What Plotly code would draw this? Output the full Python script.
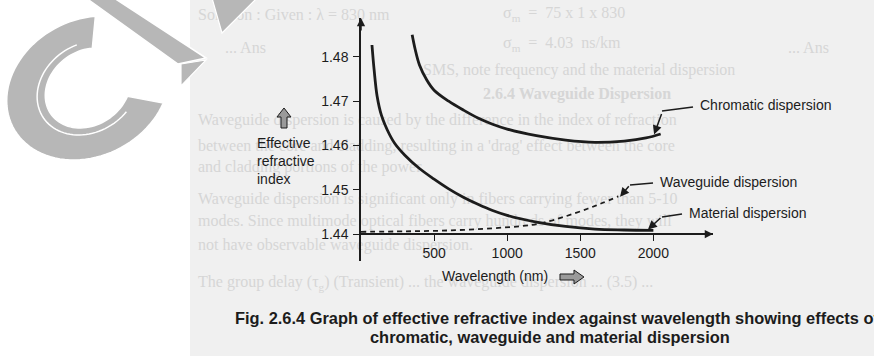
import numpy as np
import plotly.graph_objects as go

# ---- data (wavelength in nm, effective refractive index) ----
material_wl = [75, 90, 110, 140, 180, 230, 300, 400, 500, 600, 700, 800, 900, 1000, 1200, 1400, 1600, 1800, 2000]
material_n = [1.4827, 1.4770, 1.4712, 1.4668, 1.4635, 1.4605, 1.4578, 1.4548, 1.4524, 1.4502,
              1.4483, 1.4467, 1.4453, 1.4442, 1.4427, 1.4417, 1.4411, 1.4409, 1.4408]

chromatic_wl = [350, 370, 400, 450, 500, 600, 700, 800, 900, 1000, 1200, 1400, 1600, 1800, 1950, 2050]
chromatic_n = [1.4850, 1.4818, 1.4782, 1.4748, 1.4725, 1.4700, 1.4680, 1.4662, 1.4648, 1.4637,
               1.4622, 1.4612, 1.4607, 1.4610, 1.4617, 1.4626]

waveguide_wl = [0, 300, 600, 900, 1100, 1240, 1400, 1550, 1650, 1760]
waveguide_n = [1.4405, 1.4406, 1.4408, 1.4413, 1.4418, 1.4425, 1.4440, 1.4457, 1.4470, 1.4485]

x_ticks = [500, 1000, 1500, 2000]
y_ticks = [1.44, 1.45, 1.46, 1.47, 1.48]
y_tick_text = ["1.44", "1.45", "1.46", "1.47", "1.48"]

W, H = 874, 356
X_RANGE = [0, 2408]
Y_RANGE = [1.4339, 1.4888]
INK = "#1c1c1c"
SANS = "Liberation Sans, Arial, sans-serif"


def px(x):
    return x / W


def py(y):
    return 1 - y / H


fig = go.Figure()

fig.add_trace(go.Scatter(x=waveguide_wl, y=waveguide_n, mode="lines",
                         line=dict(color=INK, width=1.8, dash="5px,4px", shape="spline"),
                         hoverinfo="skip"))
fig.add_trace(go.Scatter(x=material_wl, y=material_n, mode="lines",
                         line=dict(color=INK, width=2.8, shape="spline"), hoverinfo="skip"))
fig.add_trace(go.Scatter(x=chromatic_wl, y=chromatic_n, mode="lines",
                         line=dict(color=INK, width=2.8, shape="spline"), hoverinfo="skip"))

x_domain = [px(361), px(713)]
y_domain = [py(261), py(18)]
x_axis_pos = py(234)

common_x = dict(domain=x_domain, range=X_RANGE, anchor="free", position=x_axis_pos,
                tickvals=x_ticks, showgrid=False, zeroline=False, tickcolor=INK, tickwidth=1.3)
common_y = dict(domain=y_domain, range=Y_RANGE, tickvals=y_ticks, ticktext=y_tick_text,
                showgrid=False, zeroline=False, tickcolor=INK, tickwidth=1.3)

fig.update_layout(
    width=W, height=H,
    margin=dict(l=0, r=0, t=0, b=0),
    paper_bgcolor="white",
    plot_bgcolor="rgba(0,0,0,0)",
    showlegend=False,
    xaxis=dict(**common_x, showline=True, linecolor=INK, linewidth=1.5,
               ticks="outside", ticklen=6, ticklabelstandoff=0,
               tickfont=dict(family=SANS, size=14, color=INK)),
    yaxis=dict(**common_y, anchor="x", showline=True, linecolor=INK, linewidth=1.5,
               ticks="outside", ticklen=6, ticklabelstandoff=2,
               tickfont=dict(family=SANS, size=14, color=INK)),
    # companion axes carry the inner half of the crossing tick marks
    xaxis2=dict(**common_x, overlaying="x", ticks="inside", ticklen=6,
                showticklabels=False, showline=False),
    yaxis2=dict(**common_y, overlaying="y", anchor="x", ticks="inside", ticklen=6,
                showticklabels=False, showline=False),
)

annotations = []

# axis arrow heads
annotations.append(dict(x=X_RANGE[1], y=1.44, xref="x", yref="y", ax=-14, ay=0, text="",
                        showarrow=True, arrowhead=2, arrowsize=1.1, arrowwidth=1.5, arrowcolor=INK))
annotations.append(dict(x=0, y=Y_RANGE[1], xref="x", yref="y", ax=0, ay=14, text="",
                        showarrow=True, arrowhead=2, arrowsize=1.1, arrowwidth=1.5, arrowcolor=INK))

# curve labels: text position (px), arrow tip (data), tail offset (px), leader end (px)
labels = [
    ("Chromatic dispersion", (698, 105), (2005, 1.4625), (8, -22), ((662, 111), (693, 107))),
    ("Waveguide dispersion", (658, 182), (1772, 1.4484), (10, -12), ((630, 185), (653, 183))),
    ("Material dispersion", (687, 213), (1963, 1.4410), (14, -13), ((662, 217), (682, 214))),
]
for text, (tx, ty), (ax_d, ay_d), (dx, dy), _ in labels:
    annotations.append(dict(x=px(tx), y=py(ty), xref="paper", yref="paper", text=text,
                            showarrow=False, xanchor="left", yanchor="middle",
                            font=dict(family=SANS, size=14, color=INK)))
    annotations.append(dict(x=ax_d, y=ay_d, xref="x", yref="y", ax=dx, ay=dy, text="",
                            showarrow=True, arrowhead=2, arrowsize=1.2, arrowwidth=1.5,
                            arrowcolor=INK, standoff=0))

# axis titles
annotations.append(dict(x=px(495), y=py(276), xref="paper", yref="paper", text="Wavelength (nm)",
                        xanchor="center", yanchor="middle",
                        showarrow=False, font=dict(family=SANS, size=14, color=INK)))
annotations.append(dict(x=px(255), y=py(161), xref="paper", yref="paper",
                        text="Effective<br>refractive<br>index", align="left", xanchor="left",
                        yanchor="middle",
                        showarrow=False, font=dict(family=SANS, size=14, color=INK)))

# caption
CAP = "Liberation Sans Narrow, Arial Narrow, Liberation Sans, sans-serif"
annotations.append(dict(x=px(233), y=py(318), xref="paper", yref="paper", xanchor="left",
                        yanchor="middle",
                        text="<b>Fig. 2.6.4 Graph of effective refractive index against wavelength showing effects of</b>",
                        showarrow=False, font=dict(family=CAP, size=16.4, color=INK)))
annotations.append(dict(x=px(550), y=py(337), xref="paper", yref="paper",
                        xanchor="center", yanchor="middle",
                        text="<b>chromatic, waveguide and material dispersion</b>",
                        showarrow=False, font=dict(family=CAP, size=16.4, color=INK)))

fig.update_layout(annotations=annotations)

shapes = []
# page area
shapes.append(dict(type="rect", xref="paper", yref="paper", x0=px(190), x1=1, y0=0, y1=1,
                   fillcolor="#f0f0f0", line=dict(width=0), layer="below"))

# horizontal parts of the leader lines
for *_, ((x0, y0), (x1, y1)) in labels:
    shapes.append(dict(type="line", xref="paper", yref="paper", x0=px(x0), y0=py(y0),
                       x1=px(x1), y1=py(y1), line=dict(color=INK, width=1.6)))


def path(points, close=True):
    body = "M " + " L ".join(f"{px(x):.5f},{py(y):.5f}" for x, y in points)
    return body + (" Z" if close else "")


# hatched direction arrows next to the axis titles
right_arrow = [(560, 274), (574, 274), (574, 270), (584, 277), (574, 284), (574, 280), (560, 280)]
up_arrow = [(281, 128), (281, 117), (277, 117), (284, 108), (291, 117), (287, 117), (287, 128)]
for pts in (right_arrow, up_arrow):
    shapes.append(dict(type="path", xref="paper", yref="paper", path=path(pts),
                       fillcolor="#9a9a9a", line=dict(color=INK, width=1)))

# faint text showing through from the other side of the page
SERIF = "Liberation Serif, Times New Roman, serif"
ghost_lines = [
    (195, 12, "Solution : Given : λ = 830 nm"),
    (500, 12, "σ<sub>m</sub>  =  75 x 1 x 830"),
    (500, 42, "σ<sub>m</sub>  =  4.03  ns/km"),
    (222, 45, "... Ans"),
    (785, 45, "... Ans"),
    (420, 68, "SMS, note frequency and the material dispersion"),
    (480, 92, "<b>2.6.4 Waveguide Dispersion</b>"),
    (195, 118, "Waveguide dispersion is caused by the difference in the index of refraction"),
    (195, 144, "between the core and cladding, resulting in a 'drag' effect between the core"),
    (195, 165, "and cladding portions of the power."),
    (195, 197, "Waveguide dispersion is significant only in fibers carrying fewer than 5-10"),
    (195, 219, "modes. Since multimode optical fibers carry hundreds of modes, they will"),
    (195, 243, "not have observable waveguide dispersion."),
    (195, 281, "The group delay (τ<sub>g</sub>) (Transient) ... the waveguide dispersion ... (3.5) ..."),
]
for x, y, t in ghost_lines:
    shapes.append(dict(type="rect", xref="paper", yref="paper", x0=px(x), x1=px(x + 10),
                       y0=py(y + 2), y1=py(y - 2), line=dict(width=0),
                       fillcolor="rgba(0,0,0,0)", layer="below",
                       label=dict(text=t, textposition="middle left", padding=0,
                                  font=dict(family=SERIF, size=16, color="#d6d6d6"))))

# publisher mark in the corner
LOGO = "#b7b7b7"
t = np.linspace(np.radians(95), np.radians(348), 70)
cx, cy = 88, 88


def ring(rx, ry, ang):
    xs = cx + rx * np.cos(ang)
    ys = cy - ry * np.sin(ang)
    xs = xs + 0.2 * (cy - ys)
    return list(zip(xs, ys))


outer = ring(80, 72, t)
inner = ring(42, 40, t[::-1])
shapes.append(dict(type="path", xref="paper", yref="paper", path=path(outer + inner),
                   fillcolor=LOGO, line=dict(color="white", width=1.5)))
mid = ring(50, 47, t[5:-5])
shapes.append(dict(type="path", xref="paper", yref="paper", path=path(mid, close=False),
                   line=dict(color="white", width=1.5)))
shapes.append(dict(type="path", xref="paper", yref="paper",
                   path=path([(86, -2), (114, -2), (206, 58), (178, 64)]),
                   fillcolor=LOGO, line=dict(color="white", width=1.5)))
shapes.append(dict(type="path", xref="paper", yref="paper",
                   path=path([(206, 60), (181, 64), (181, 86)]),
                   fillcolor=LOGO, line=dict(color="white", width=1.2)))
shapes.append(dict(type="path", xref="paper", yref="paper",
                   path=path([(212, -2), (257, -2), (222, 33)]),
                   fillcolor=LOGO, line=dict(color="white", width=1.2)))

fig.update_layout(shapes=shapes)

fig.write_html("out.html")
